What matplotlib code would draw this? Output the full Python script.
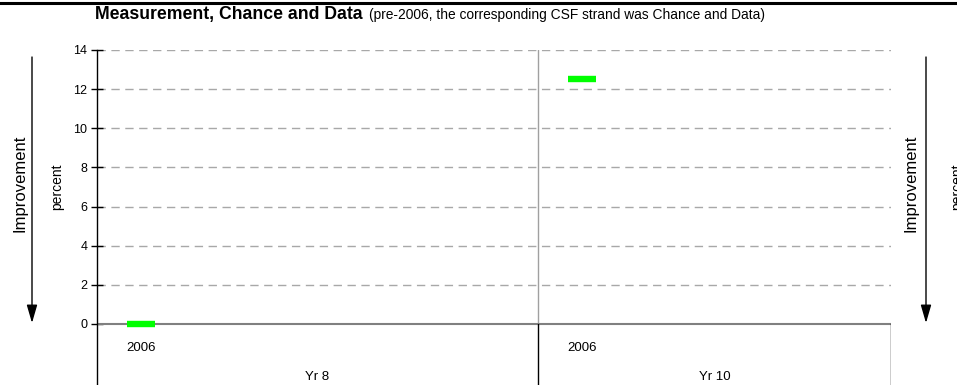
import matplotlib
matplotlib.use("Agg")
import matplotlib.pyplot as plt
from matplotlib.patches import FancyArrowPatch

plt.rcParams["font.family"] = ["Liberation Sans", "DejaVu Sans"]

# Data
groups = ["Yr 8", "Yr 10"]
group_slots = [5, 4]              # year slots per group on the category axis
years = ["2006"]
values = {"Yr 8": [0.0], "Yr 10": [12.5]}
yticks = [0, 2, 4, 6, 8, 10, 12, 14]

W, H = 957, 385
fig = plt.figure(figsize=(W / 100, H / 100), dpi=100)

# Axes box in pixel terms
x0, x1 = 97, 891
ytop, ybot = 50, 385
ax = fig.add_axes([x0 / W, 1 - ybot / H, (x1 - x0) / W, (ybot - ytop) / H])

total = sum(group_slots)
px_per_unit = (324 - 50) / 14.0
ymin = -(ybot - 324) / px_per_unit
ax.set_xlim(0, total)
ax.set_ylim(ymin, 14)

for s in ["top", "right", "bottom"]:
    ax.spines[s].set_visible(False)
ax.spines["left"].set_color("black")
ax.spines["left"].set_linewidth(1.0)

ax.set_xticks([])
ax.set_yticks(yticks)
ax.set_yticklabels([str(t) for t in yticks], fontsize=9)
ax.tick_params(axis="y", direction="inout", length=8, width=1.0, pad=3)

# Dashed gridlines
for t in yticks[1:]:
    ax.axhline(t, color="#a8a8a8", lw=1.0, ls=(0, (6, 4)), zorder=1)

# Zero line
ax.axhline(0, color="#808080", lw=1.5, zorder=2)

# Group separators, category box, year labels and markers
start = 0
for gi, (g, n) in enumerate(zip(groups, group_slots)):
    end = start + n
    if gi > 0:
        ax.plot([start, start], [0, 14], color="#a0a0a0", lw=1.0, zorder=2)
        ax.plot([start, start], [ymin, 0], color="black", lw=1.0, zorder=2)
    if gi == len(groups) - 1:
        ax.plot([end, end], [ymin, 0], color="black", lw=1.0, zorder=2)
    for yi, yr in enumerate(years):
        xc = start + yi + 0.5
        ax.text(xc, -1.23, yr, ha="center", va="center", fontsize=9.5)
        ax.plot([xc], [values[g][yi]], marker="_", markersize=19.5,
                markeredgewidth=4.6, color="#00ff00", zorder=5,
                clip_on=False)
    ax.text((start + end) / 2, -2.72, g, ha="center", va="center",
            fontsize=9.5)
    start = end

# Title
ty = 1 - 14 / H
t1 = fig.text(95 / W, ty, "Measurement, Chance and Data", fontsize=12.7,
              fontweight="bold", va="center", ha="left")
fig.canvas.draw()
bb = t1.get_window_extent()
fig.text((bb.x1 + 6) / W, ty - 0.5 / H,
         "(pre-2006, the corresponding CSF strand was Chance and Data)",
         fontsize=9.9, va="center", ha="left")

# Rule along the top
fig.add_artist(plt.Line2D([0, 1], [1 - 3 / H, 1 - 3 / H], color="black", lw=2.2))


# Side annotations: "Improvement" with a downward arrow, and the unit
def side(xt, xa, xp):
    fig.text(xt / W, 1 - 183 / H, "Improvement", rotation=90, fontsize=12,
             ha="center", va="center")
    fig.add_artist(FancyArrowPatch(
        (xa / W, 1 - 57 / H), (xa / W, 1 - 323 / H),
        transform=fig.transFigure,
        arrowstyle="-|>,head_length=0.55,head_width=0.16",
        mutation_scale=20, color="black", lw=1.0, shrinkA=0, shrinkB=0))
    fig.text(xp / W, 1 - 187 / H, "percent", rotation=90, fontsize=10,
             ha="center", va="center")


side(20, 32, 57)
side(911, 926, 957)

fig.savefig("out.png", dpi=100)
